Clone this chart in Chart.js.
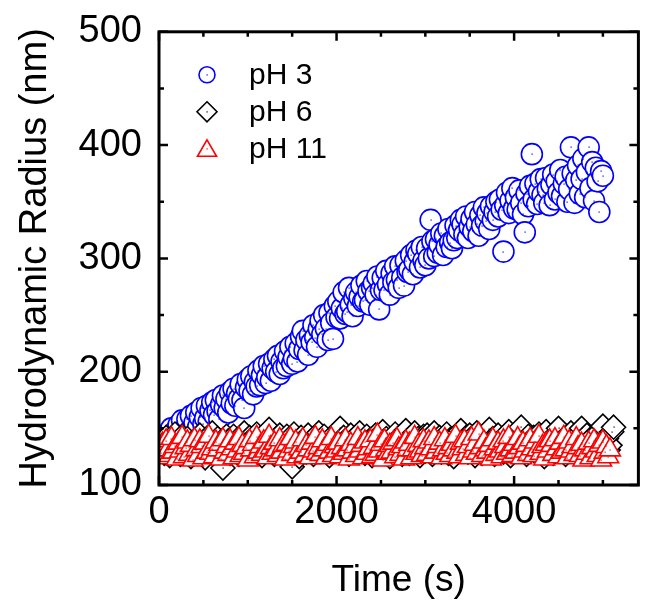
<!DOCTYPE html>
<html>
<head>
<meta charset="utf-8">
<script src="https://cdn.jsdelivr.net/npm/chart.js@4.4.1/dist/chart.umd.min.js"></script>
<style>
  html, body { margin: 0; padding: 0; background: #fff; }
  #wrap { width: 652px; height: 603px; }
</style>
</head>
<body>
<div id="wrap"><canvas id="hrChart" width="652" height="603"></canvas></div>
<script>
// sampling times (s)
const time = [
  20, 40, 60, 80, 100, 120, 140, 160, 180, 200,
  220, 240, 260, 280, 300, 320, 340, 360, 380, 400,
  420, 440, 460, 480, 500, 520, 540, 560, 580, 600,
  620, 640, 660, 680, 700, 720, 740, 760, 780, 800,
  820, 840, 860, 880, 900, 920, 940, 960, 980, 1000,
  1020, 1040, 1060, 1080, 1100, 1120, 1140, 1160, 1180, 1200,
  1220, 1240, 1260, 1280, 1300, 1320, 1340, 1360, 1380, 1400,
  1420, 1440, 1460, 1480, 1500, 1520, 1540, 1560, 1580, 1600,
  1620, 1640, 1660, 1680, 1700, 1720, 1740, 1760, 1780, 1800,
  1820, 1840, 1860, 1880, 1900, 1920, 1940, 1960, 1980, 2000,
  2020, 2040, 2060, 2080, 2100, 2120, 2140, 2160, 2180, 2200,
  2220, 2240, 2260, 2280, 2300, 2320, 2340, 2360, 2380, 2400,
  2420, 2440, 2460, 2480, 2500, 2520, 2540, 2560, 2580, 2600,
  2620, 2640, 2660, 2680, 2700, 2720, 2740, 2760, 2780, 2800,
  2820, 2840, 2860, 2880, 2900, 2920, 2940, 2960, 2980, 3000,
  3020, 3040, 3060, 3080, 3100, 3120, 3140, 3160, 3180, 3200,
  3220, 3240, 3260, 3280, 3300, 3320, 3340, 3360, 3380, 3400,
  3420, 3440, 3460, 3480, 3500, 3520, 3540, 3560, 3580, 3600,
  3620, 3640, 3660, 3680, 3700, 3720, 3740, 3760, 3780, 3800,
  3820, 3840, 3860, 3880, 3900, 3920, 3940, 3960, 3980, 4000,
  4020, 4040, 4060, 4080, 4100, 4120, 4140, 4160, 4180, 4200,
  4220, 4240, 4260, 4280, 4300, 4320, 4340, 4360, 4380, 4400,
  4420, 4440, 4460, 4480, 4500, 4520, 4540, 4560, 4580, 4600,
  4620, 4640, 4660, 4680, 4700, 4720, 4740, 4760, 4780, 4800,
  4820, 4840, 4860, 4880, 4900, 4920, 4940, 4960, 4980, 5000,
  5020, 5040, 5060, 5080, 5100, 5120
];

// hydrodynamic radius (nm), pH 3 - grows with time
const radiusPH3 = [
  137, 131, 143, 135, 146, 139, 150, 136, 147, 141,
  153, 142, 157, 145, 150, 158, 147, 161, 150, 155,
  164, 151, 160, 168, 154, 159, 170, 156, 166, 173,
  162, 175, 165, 158, 171, 179, 168, 176, 164, 182,
  172, 185, 170, 181, 176, 189, 175, 168, 186, 193,
  183, 196, 180, 191, 187, 201, 188, 197, 205, 190,
  195, 207, 192, 203, 211, 200, 214, 198, 209, 203,
  218, 205, 213, 222, 207, 212, 225, 209, 220, 231,
  236, 219, 228, 215, 232, 226, 241, 230, 222, 238,
  245, 233, 250, 238, 228, 252, 243, 229, 258, 248,
  262, 247, 256, 270, 251, 253, 274, 259, 249, 265,
  270, 258, 266, 276, 262, 263, 280, 271, 259, 274,
  278, 268, 284, 255, 272, 283, 272, 289, 277, 268,
  287, 279, 293, 281, 274, 294, 283, 276, 298, 288,
  290, 303, 286, 297, 307, 304, 292, 310, 298, 294,
  309, 300, 334, 315, 302, 317, 305, 312, 322, 303,
  320, 310, 326, 314, 309, 316, 329, 318, 325, 334,
  330, 321, 337, 318, 328, 335, 324, 341, 330, 320,
  338, 329, 345, 333, 340, 326, 346, 334, 341, 350,
  337, 352, 343, 306, 347, 358, 340, 351, 362, 344,
  354, 343, 360, 349, 339, 323, 357, 346, 364, 392,
  352, 366, 348, 359, 370, 356, 349, 371, 361, 347,
  365, 374, 352, 368, 358, 378, 355, 366, 372, 350,
  361, 398, 375, 349, 369, 382, 357, 370, 388, 354,
  376, 398, 362, 385, 351, 380, 368, 341, 377, 373
];

// pH 6 - stable
const radiusPH6 = [
  133, 139, 128, 142, 136, 126, 140, 131, 145, 130,
  138, 127, 143, 134, 129, 141, 135, 125, 137, 131,
  140, 128, 144, 133, 138, 124, 136, 141, 130, 146,
  134, 129, 141, 136, 126, 115, 132, 143, 139, 128,
  135, 143, 130, 138, 127, 141, 133, 146, 129, 136,
  142, 128, 139, 134, 145, 131, 137, 126, 143, 132,
  138, 149, 130, 135, 127, 141, 133, 144, 129, 137,
  132, 143, 128, 140, 116, 145, 130, 138, 125, 142,
  134, 139, 129, 144, 133, 137, 127, 142, 131, 146,
  135, 130, 143, 132, 138, 126, 141, 134, 145, 131,
  137, 150, 129, 142, 133, 139, 127, 144, 131, 136,
  141, 130, 146, 134, 138, 128, 143, 132, 140, 126,
  136, 144, 131, 139, 133, 147, 128, 141, 135, 125,
  140, 132, 145, 129, 137, 143, 127, 134, 148, 131,
  128, 138, 133, 146, 131, 141, 126, 136, 143, 130,
  144, 132, 139, 127, 146, 134, 130, 142, 129, 137,
  133, 145, 128, 140, 135, 125, 143, 131, 138, 148,
  130, 136, 142, 129, 144, 133, 139, 126, 146, 132,
  138, 128, 143, 134, 130, 149, 136, 141, 127, 135,
  144, 131, 137, 129, 142, 133, 147, 126, 140, 134,
  130, 146, 135, 151, 132, 138, 127, 143, 131, 137,
  142, 129, 134, 145, 131, 139, 125, 147, 136, 133,
  140, 128, 144, 132, 150, 135, 130, 141, 127, 138,
  133, 146, 131, 137, 143, 129, 135, 150, 132, 139,
  144, 130, 136, 142, 128, 138, 133, 147, 134, 152,
  135, 141, 131, 135, 147, 151
];

// pH 11 - stable
const radiusPH11 = [
  128, 136, 124, 139, 131, 126, 141, 129, 134, 123,
  137, 130, 142, 125, 133, 138, 127, 135, 122, 140,
  131, 126, 139, 134, 124, 137, 129, 143, 128, 132,
  125, 138, 131, 136, 123, 140, 129, 134, 127, 139,
  132, 124, 137, 130, 141, 126, 135, 128, 133, 122,
  139, 131, 136, 125, 142, 129, 134, 127, 138, 130,
  124, 143, 133, 128, 137, 131, 126, 140, 129, 135,
  123, 136, 130, 141, 127, 134, 138, 125, 132, 129,
  140, 126, 135, 131, 124, 137, 130, 142, 128, 133,
  127, 139, 131, 124, 136, 129, 141, 126, 134, 130,
  137, 125, 133, 128, 140, 131, 123, 136, 129, 134,
  126, 141, 130, 135, 124, 138, 128, 132, 139, 125,
  133, 127, 144, 130, 136, 122, 139, 131, 128, 135,
  129, 137, 125, 140, 132, 127, 134, 123, 138, 131,
  136, 124, 131, 142, 128, 135, 130, 126, 139, 133,
  127, 138, 132, 125, 141, 129, 134, 137, 124, 131,
  140, 128, 133, 126, 136, 131, 143, 129, 125, 137,
  132, 139, 127, 134, 124, 141, 130, 136, 128, 145,
  133, 126, 138, 131, 129, 135, 123, 140, 132, 127,
  137, 130, 125, 139, 134, 128, 142, 131, 126, 136,
  129, 141, 133, 124, 137, 130, 135, 127, 140, 132,
  126, 138, 131, 143, 128, 134, 123, 136, 130, 139,
  135, 127, 140, 132, 125, 137, 129, 142, 131, 124,
  138, 130, 134, 127, 141, 133, 126, 136, 122, 131,
  128, 137, 124, 133, 139, 130, 126, 135, 122, 138,
  129, 134, 125, 131
];

const seriesLabels = ['pH 3', 'pH 6', 'pH 11'];
const xTickValues = [0, 2000, 4000];
const yTickValues = [100, 200, 300, 400, 500];

const FONT = "'Liberation Sans', Arial, sans-serif";

function toPoints(values) {
  return values.map((v, i) => ({ x: time[i], y: v }));
}

// frame on all four sides with inward ticks
const frameTicks = {
  id: 'frameTicks',
  afterDraw(chart) {
    const { ctx, chartArea: a, scales: { x, y } } = chart;
    ctx.save();
    ctx.strokeStyle = '#000';
    ctx.lineWidth = 3;
    ctx.strokeRect(a.left, a.top, a.right - a.left, a.bottom - a.top);
    ctx.lineWidth = 2.5;
    ctx.beginPath();
    for (let v = x.min; v <= x.max; v += 500) {
      const px = x.getPixelForValue(v);
      const len = v % 2000 === 0 ? 9 : 5;
      ctx.moveTo(px, a.bottom); ctx.lineTo(px, a.bottom - len);
      ctx.moveTo(px, a.top); ctx.lineTo(px, a.top + len);
    }
    for (let v = y.min; v <= y.max; v += 50) {
      const py = y.getPixelForValue(v);
      const len = v % 100 === 0 ? 9 : 5;
      ctx.moveTo(a.left, py); ctx.lineTo(a.left + len, py);
      ctx.moveTo(a.right, py); ctx.lineTo(a.right - len, py);
    }
    ctx.stroke();
    ctx.restore();
  }
};

// small dot in the centre of each marker
const centreDots = {
  id: 'centreDots',
  afterDatasetDraw(chart, args) {
    const ctx = chart.ctx;
    const ds = chart.data.datasets[args.index];
    ctx.save();
    ctx.fillStyle = ds.borderColor;
    args.meta.data.forEach(pt => {
      ctx.fillRect(Math.round(pt.x) - 0.5, Math.round(pt.y) - 0.5, 1.2, 1.2);
    });
    ctx.restore();
  }
};

function drawMarker(ctx, style, cx, cy, r) {
  ctx.beginPath();
  if (style === 'circle') {
    ctx.arc(cx, cy, r, 0, Math.PI * 2);
  } else if (style === 'rectRot') {
    ctx.moveTo(cx, cy - r); ctx.lineTo(cx + r, cy);
    ctx.lineTo(cx, cy + r); ctx.lineTo(cx - r, cy);
    ctx.closePath();
  } else {
    const h = r * Math.sqrt(3) / 2;
    ctx.moveTo(cx, cy - r); ctx.lineTo(cx + h, cy + r / 2);
    ctx.lineTo(cx - h, cy + r / 2);
    ctx.closePath();
  }
  ctx.fill();
  ctx.stroke();
}

// legend inside the plot, top left
const insideLegend = {
  id: 'insideLegend',
  afterDraw(chart) {
    const { ctx, chartArea: a } = chart;
    const sizes = [8, 10, 11];
    ctx.save();
    chart.data.datasets.forEach((ds, i) => {
      const cy = a.top + 43 + i * 37;
      const cx = a.left + 48;
      ctx.strokeStyle = ds.borderColor;
      ctx.fillStyle = '#fff';
      ctx.lineWidth = 1.6;
      drawMarker(ctx, ds.pointStyle, cx, cy + (ds.pointStyle === 'triangle' ? 2 : 0), sizes[i]);
      ctx.fillStyle = ds.borderColor;
      ctx.fillRect(cx - 0.5, cy - 0.5, 1.2, 1.2);
      ctx.fillStyle = '#000';
      ctx.font = '30px ' + FONT;
      ctx.textBaseline = 'middle';
      ctx.fillText(ds.label, a.left + 90, cy + 1);
    });
    ctx.restore();
  }
};

const ctx = document.getElementById('hrChart').getContext('2d');

new Chart(ctx, {
  type: 'scatter',
  data: {
    datasets: [
      {
        label: seriesLabels[0],
        data: toPoints(radiusPH3),
        pointStyle: 'circle',
        pointRadius: 10.5,
        borderColor: '#0000ff',
        backgroundColor: '#ffffff',
        borderWidth: 1.6,
        order: 3
      },
      {
        label: seriesLabels[1],
        data: toPoints(radiusPH6),
        pointStyle: 'rectRot',
        pointRadius: 12,
        borderColor: '#000000',
        backgroundColor: '#ffffff',
        borderWidth: 1.6,
        order: 2
      },
      {
        label: seriesLabels[2],
        data: toPoints(radiusPH11),
        pointStyle: 'triangle',
        pointRadius: 12,
        borderColor: '#ff0000',
        backgroundColor: '#ffffff',
        borderWidth: 1.6,
        order: 1
      }
    ]
  },
  options: {
    responsive: false,
    animation: false,
    events: [],
    layout: { padding: { top: 28, right: 2, left: 0, bottom: 0 } },
    plugins: {
      legend: { display: false },
      tooltip: { enabled: false }
    },
    scales: {
      x: {
        type: 'linear',
        min: 0,
        max: 5400,
        afterBuildTicks: s => { s.ticks = xTickValues.map(v => ({ value: v })); },
        afterFit: s => { s.height = 118; },
        grid: { display: false },
        border: { display: false },
        ticks: {
          color: '#000',
          font: { family: FONT, size: 38 },
          padding: -3,
          maxRotation: 0,
          callback: v => String(v)
        },
        title: {
          display: true,
          text: 'Time (s)',
          color: '#000',
          font: { family: FONT, size: 37 },
          padding: { top: 0, bottom: 0 }
        }
      },
      y: {
        type: 'linear',
        min: 100,
        max: 500,
        afterBuildTicks: s => { s.ticks = yTickValues.map(v => ({ value: v })); },
        afterFit: s => { s.width = 159; },
        grid: { display: false },
        border: { display: false },
        ticks: {
          color: '#000',
          font: { family: FONT, size: 38 },
          padding: 9,
          callback: v => String(v)
        },
        title: {
          display: true,
          text: 'Hydrodynamic Radius (nm)',
          color: '#000',
          font: { family: FONT, size: 38 },
          padding: { top: 13, bottom: 0 }
        }
      }
    }
  },
  plugins: [centreDots, frameTicks, insideLegend]
});
</script>
</body>
</html>
